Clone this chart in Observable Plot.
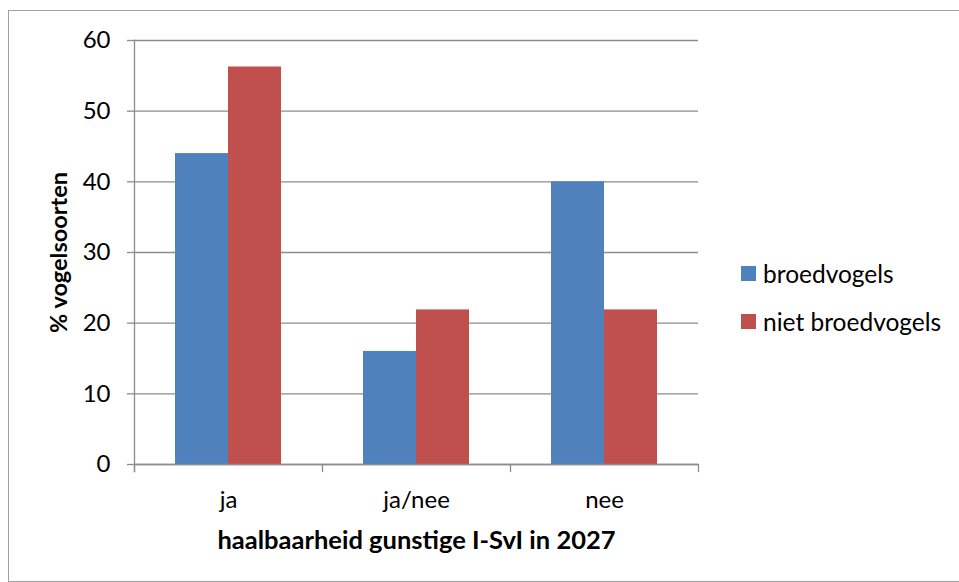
<!DOCTYPE html>
<html>
<head>
<meta charset="utf-8">
<script src="https://cdn.jsdelivr.net/npm/d3@7"></script>
<script src="https://cdn.jsdelivr.net/npm/@observablehq/plot@0.6"></script>
<style>
  html, body { margin: 0; padding: 0; background: #fff; }
  #wrap { position: relative; width: 959px; height: 582px; overflow: hidden; font-family: Lato, "Open Sans", sans-serif; }
  #border { position: absolute; left: 8px; top: 10px; width: 1000px; height: 572px; border: 1px solid #a0a0a0; box-sizing: border-box; }
  #chart { position: absolute; left: 0; top: 0; }
  #legend { position: absolute; left: 741px; top: 249px; font-size: 24.5px; color: #000; }
  .item { display: flex; align-items: center; height: 48px; }
  .sw { width: 15px; height: 15px; margin-right: 7px; }
</style>
</head>
<body>
<div id="wrap">
  <div id="border"></div>
  <div id="chart"></div>
  <div id="legend"></div>
</div>
<script>
const categories = ["ja", "ja/nee", "nee"];
const seriesNames = ["broedvogels", "niet broedvogels"];
const broedvogels = [44, 16, 40];
const nietBroedvogels = [56.25, 21.875, 21.875];
const colors = ["#4F81BD", "#C0504D"];
const yTicks = [0, 10, 20, 30, 40, 50, 60];

const data = [];
categories.forEach((c, i) => {
  data.push({cat: c, series: seriesNames[0], value: broedvogels[i]});
  data.push({cat: c, series: seriesNames[1], value: nietBroedvogels[i]});
});

const W = 959, H = 582;
const mL = 133, mR = 261, mT = 40, mB = 118;
const plotH = H - mT - mB;
const grid = "#8c8c8c";

const chart = Plot.plot({
  width: W,
  height: H,
  marginLeft: mL,
  marginRight: mR,
  marginTop: mT,
  marginBottom: mB,
  style: {fontFamily: "Lato, 'Open Sans', sans-serif", background: "transparent", color: "#000"},
  fx: {domain: categories, padding: 0},
  x: {domain: seriesNames, paddingInner: 0, paddingOuter: 0.744, axis: null},
  y: {domain: [0, 60]},
  color: {domain: seriesNames, range: colors},
  marks: [
    Plot.gridY(yTicks, {stroke: grid, strokeOpacity: 1, strokeWidth: 1.3}),
    Plot.barY(data, {fx: "cat", x: "series", y: "value", fill: "series", inset: 0}),
    Plot.ruleY([0], {stroke: grid, strokeWidth: 1.3}),
    Plot.frame({anchor: "left", facetAnchor: "left", stroke: grid, strokeWidth: 1.3, insetBottom: -7}),
    Plot.frame({anchor: "left", stroke: grid, strokeWidth: 1.3, insetTop: plotH, insetBottom: -7}),
    Plot.frame({anchor: "right", facetAnchor: "right", stroke: grid, strokeWidth: 1.3, insetTop: plotH, insetBottom: -7}),
    Plot.axisY(yTicks, {tickSize: 7, tickPadding: 17, stroke: grid, strokeWidth: 1.3, fontSize: 24,
      label: "% vogelsoorten", labelAnchor: "center", labelOffset: 84, labelArrow: "none"}),
    Plot.axisFx({anchor: "bottom", tickSize: 0, tickPadding: 26, fontSize: 24,
      label: "haalbaarheid gunstige I-SvI in 2027", labelAnchor: "center", labelOffset: 84, labelArrow: "none"})
  ]
});

// bold the axis labels
chart.querySelectorAll("g[aria-label='y-axis label'] text").forEach(t => {
  t.setAttribute("font-weight", "bold");
  t.setAttribute("font-size", "23.5");
});
chart.querySelectorAll("g[aria-label='fx-axis label'] text").forEach(t => {
  t.setAttribute("font-weight", "bold");
  t.setAttribute("font-size", "25.5");
});
document.getElementById("chart").appendChild(chart);

const legend = document.getElementById("legend");
seriesNames.forEach((s, i) => {
  const item = document.createElement("div");
  item.className = "item";
  const sw = document.createElement("div");
  sw.className = "sw";
  sw.style.background = colors[i];
  const label = document.createElement("span");
  label.textContent = s;
  item.appendChild(sw);
  item.appendChild(label);
  legend.appendChild(item);
});
</script>
</body>
</html>
